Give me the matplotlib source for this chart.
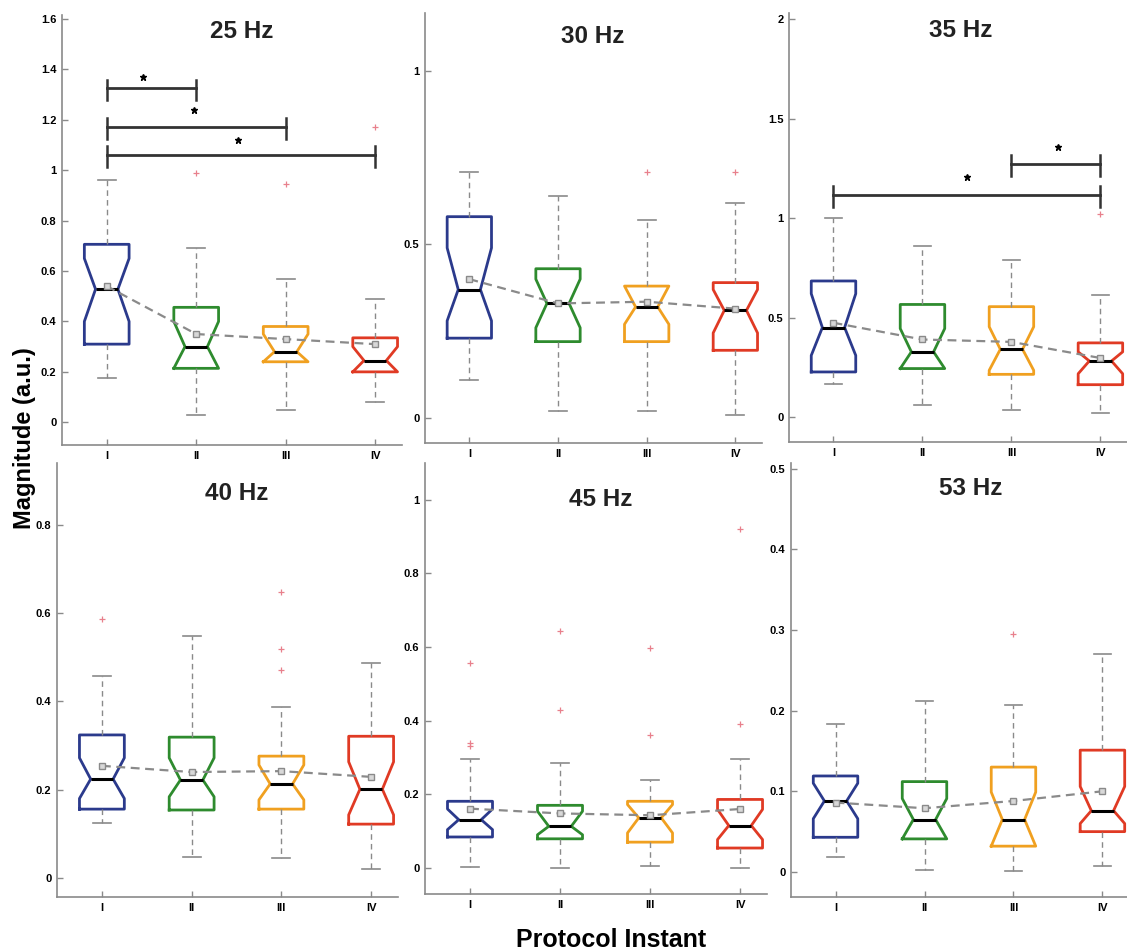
import numpy as np
import matplotlib
matplotlib.use('Agg')
import matplotlib.pyplot as plt
from matplotlib.ticker import FuncFormatter

plt.rcParams['font.family'] = ['Liberation Sans', 'DejaVu Sans']

# ---- data (one inner list per frequency, I..IV) ----
freqs = ['25 Hz', '30 Hz', '35 Hz', '40 Hz', '45 Hz', '53 Hz']
instants = ['I', 'II', 'III', 'IV']

q1 = [[0.31, 0.214, 0.24, 0.20],
      [0.23, 0.22, 0.22, 0.195],
      [0.227, 0.244, 0.215, 0.163],
      [0.156, 0.154, 0.156, 0.122],
      [0.084, 0.079, 0.070, 0.054],
      [0.043, 0.041, 0.032, 0.050]]
med = [[0.528, 0.30, 0.28, 0.245],
       [0.37, 0.33, 0.32, 0.31],
       [0.45, 0.328, 0.341, 0.282],
       [0.224, 0.222, 0.213, 0.201],
       [0.131, 0.113, 0.136, 0.115],
       [0.088, 0.065, 0.065, 0.076]]
q3 = [[0.706, 0.456, 0.38, 0.335],
      [0.58, 0.43, 0.38, 0.39],
      [0.684, 0.566, 0.555, 0.373],
      [0.324, 0.319, 0.276, 0.321],
      [0.181, 0.170, 0.181, 0.186],
      [0.119, 0.112, 0.130, 0.151]]
whis_lo = [[0.175, 0.03, 0.05, 0.08],
           [0.11, 0.02, 0.02, 0.01],
           [0.168, 0.059, 0.037, 0.02],
           [0.125, 0.048, 0.045, 0.02],
           [0.002, 0.0, 0.005, 0.0],
           [0.019, 0.003, 0.001, 0.008]]
whis_hi = [[0.96, 0.69, 0.57, 0.49],
           [0.71, 0.64, 0.57, 0.62],
           [1.0, 0.86, 0.79, 0.613],
           [0.457, 0.548, 0.387, 0.487],
           [0.296, 0.286, 0.238, 0.296],
           [0.183, 0.212, 0.207, 0.27]]
notch_lo = [[0.40, 0.214, 0.24, 0.20],
            [0.28, 0.26, 0.27, 0.245],
            [0.31, 0.244, 0.235, 0.218],
            [0.18, 0.184, 0.177, 0.143],
            [0.104, 0.09, 0.095, 0.077],
            [0.066, 0.041, 0.032, 0.06]]
notch_hi = [[0.65, 0.40, 0.35, 0.30],
            [0.49, 0.40, 0.38, 0.37],
            [0.62, 0.445, 0.454, 0.328],
            [0.272, 0.272, 0.256, 0.263],
            [0.16, 0.154, 0.172, 0.159],
            [0.11, 0.091, 0.099, 0.106]]
means = [[0.54, 0.35, 0.33, 0.31],
         [0.40, 0.33, 0.335, 0.315],
         [0.474, 0.39, 0.378, 0.297],
         [0.254, 0.24, 0.242, 0.229],
         [0.161, 0.148, 0.143, 0.16],
         [0.086, 0.079, 0.088, 0.10]]
outliers = [[[], [0.99], [0.945], [1.17]],
            [[], [], [0.71], [0.71]],
            [[], [], [], [1.02]],
            [[0.587], [], [0.648, 0.519, 0.471], []],
            [[0.557, 0.34, 0.331], [0.644, 0.428], [0.597, 0.36], [0.92, 0.392]],
            [[], [], [0.295], []]]

# significance brackets: (panel, from, to, bar height, star x, star y)
sig_bars = [(0, 1, 2, 1.325, 1.41, 1.37),
            (0, 1, 3, 1.172, 1.97, 1.24),
            (0, 1, 4, 1.06, 2.47, 1.12),
            (2, 1, 4, 1.118, 2.5, 1.205),
            (2, 3, 4, 1.274, 3.52, 1.356)]

ylims = [(-0.09, 1.616), (-0.072, 1.167), (-0.125, 2.03),
         (-0.043, 0.94), (-0.071, 1.10), (-0.031, 0.507)]
yticks = [np.arange(0, 1.61, 0.2), [0, 0.5, 1], [0, 0.5, 1, 1.5, 2],
          np.arange(0, 0.81, 0.2), np.arange(0, 1.01, 0.2), np.arange(0, 0.51, 0.1)]
title_pos = [(2.51, 1.55), (2.39, 1.1), (2.43, 1.94),
             (2.5, 0.87), (2.45, 1.0), (2.52, 0.475)]

box_colors = ['#2b3a8c', '#2e8b2e', '#f0a020', '#e03a24']

# axes rectangles in figure fractions
rects = [(0.055, 0.5326, 0.3017, 0.4517),
         (0.3771, 0.5347, 0.2990, 0.4517),
         (0.7001, 0.5357, 0.3000, 0.4506),
         (0.0506, 0.0578, 0.3026, 0.4559),
         (0.3771, 0.0609, 0.3035, 0.4527),
         (0.7019, 0.0578, 0.3000, 0.4559)]

fig = plt.figure(figsize=(11.27, 9.52), dpi=100)

for p in range(6):
    ax = fig.add_axes(rects[p])
    stats = []
    for k in range(4):
        stats.append(dict(med=med[p][k], q1=q1[p][k], q3=q3[p][k],
                          whislo=whis_lo[p][k], whishi=whis_hi[p][k],
                          cilo=notch_lo[p][k], cihi=notch_hi[p][k],
                          mean=means[p][k], fliers=outliers[p][k]))
    bp = ax.bxp(stats, positions=[1, 2, 3, 4], widths=0.5, capwidths=0.2,
                shownotches=True, showmeans=False, patch_artist=False,
                manage_ticks=False,
                whiskerprops=dict(color='#8a8a8a', linestyle=(0, (4, 3)), linewidth=1.0),
                capprops=dict(color='#8a8a8a', linewidth=1.2),
                medianprops=dict(color='black', linewidth=2.2),
                flierprops=dict(marker='+', markeredgecolor='#e8808c',
                                markersize=5, markeredgewidth=0.9, linestyle='none'))
    for k, b in enumerate(bp['boxes']):
        b.set_color(box_colors[k])
        b.set_linewidth(2.0)

    ax.plot([1, 2, 3, 4], means[p], color='#8a8a8a', linestyle=(0, (4, 2.5)),
            linewidth=1.6, marker='s', markersize=4.5, markerfacecolor='#d8d8d8',
            markeredgecolor='#8a8a8a', zorder=5)

    lo, hi = ylims[p]
    rng = hi - lo
    for (pp, a, b, y, sx, sy) in sig_bars:
        if pp != p:
            continue
        ax.plot([a, b], [y, y], color='#333333', linewidth=2.0)
        for xe in (a, b):
            ax.plot([xe, xe], [y - 0.028 * rng, y + 0.02 * rng], color='#333333', linewidth=1.8)
        ax.plot([sx], [sy], marker='*', color='black', markersize=5, linestyle='none')

    tx, ty = title_pos[p]
    ax.text(tx, ty, freqs[p], ha='center', va='center', fontsize=17.5, fontweight='bold',
            color='#222222')

    ax.set_xlim(0.5, 4.3)
    ax.set_ylim(lo, hi)
    ax.set_xticks([1, 2, 3, 4])
    ax.set_xticklabels(instants)
    ax.set_yticks(yticks[p])
    ax.yaxis.set_major_formatter(FuncFormatter(lambda v, pos: '%g' % round(v, 3)))
    ax.tick_params(direction='in', length=4, width=1, color='#8a8a8a',
                   labelsize=8, pad=4)
    for lab in ax.get_xticklabels() + ax.get_yticklabels():
        lab.set_fontweight('bold')
    for s in ('top', 'right'):
        ax.spines[s].set_visible(False)
    for s in ('left', 'bottom'):
        ax.spines[s].set_color('#8a8a8a')
        ax.spines[s].set_linewidth(1.2)
    ax.set_facecolor('none')

fig.text(0.022, 0.54, 'Magnitude (a.u.)', rotation=90, ha='center', va='center',
         fontsize=17, fontweight='bold')
fig.text(0.542, 0.013, 'Protocol Instant', ha='center', va='center',
         fontsize=18, fontweight='bold')

fig.savefig('out.png', dpi=100)
